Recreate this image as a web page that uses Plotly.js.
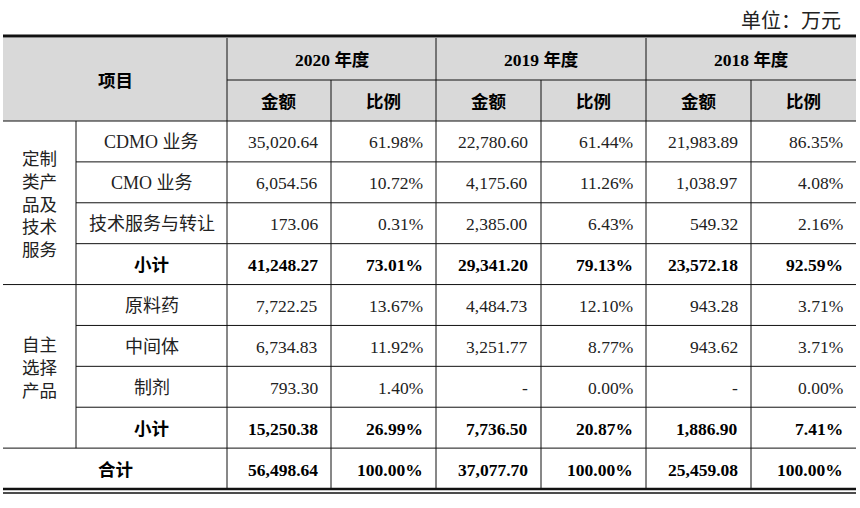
<!DOCTYPE html>
<html>
<head>
<meta charset="utf-8">
<script src="https://cdn.plot.ly/plotly-3.0.1.min.js"></script>
<style>body { margin: 0; background: #fff; }</style>
</head>
<body>
<div id="plot1" style="width:860px;height:508px"></div>
<script>
// header texts
let years = ["2020 年度", "2019 年度", "2018 年度"];
let subHeads = ["金额", "比例"];
let groups = ["定制类产品及技术服务", "自主选择产品"];

// row labels (last one is the grand total)
let items = ["CDMO 业务", "CMO 业务", "技术服务与转让", "小计",
             "原料药", "中间体", "制剂", "小计", "合计"];

// amounts (万元) and shares (%) per year, null means "-"
let amount2020 = [35020.64, 6054.56, 173.06, 41248.27, 7722.25, 6734.83, 793.30, 15250.38, 56498.64];
let share2020 = [61.98, 10.72, 0.31, 73.01, 13.67, 11.92, 1.40, 26.99, 100.00];
let amount2019 = [22780.60, 4175.60, 2385.00, 29341.20, 4484.73, 3251.77, null, 7736.50, 37077.70];
let share2019 = [61.44, 11.26, 6.43, 79.13, 12.10, 8.77, 0.00, 20.87, 100.00];
let amount2018 = [21983.89, 1038.97, 549.32, 23572.18, 943.28, 943.62, null, 1886.90, 25459.08];
let share2018 = [86.35, 4.08, 2.16, 92.59, 3.71, 3.71, 0.00, 7.41, 100.00];

let boldRows = [3, 7, 8];

// table geometry, in pixels (the axes are set 1 unit = 1 px)
let colX = [3, 76, 227, 331, 436, 541, 646, 751, 856];
let headTop = 38, headMid = 80, headBot = 121;
let rowH = (489 - headBot) / items.length;
let rowY = i => headBot + rowH * i;

let fontFam = "'Liberation Serif', 'Noto Sans CJK SC', serif";
let ink = "#222";

function fmtAmount(v) {
    if (v === null) return "-";
    return v.toLocaleString("en-US", {minimumFractionDigits: 2, maximumFractionDigits: 2});
}
function fmtShare(v) {
    return v.toFixed(2) + "%";
}

let shapes = [];
let annotations = [];

function hline(y, x0, x1, w) {
    shapes.push({type: "line", xref: "x", yref: "y", x0: x0, x1: x1, y0: y, y1: y,
                 line: {color: "#111", width: w || 1}});
}
function vline(x, y0, y1) {
    shapes.push({type: "line", xref: "x", yref: "y", x0: x, x1: x, y0: y0, y1: y1,
                 line: {color: "#111", width: 1}});
}
function label(text, x, y, anchor, size, bold) {
    annotations.push({
        xref: "x", yref: "y", x: x, y: y, text: bold ? "<b>" + text + "</b>" : text,
        showarrow: false, xanchor: anchor, yanchor: "middle",
        font: {family: fontFam, size: size || 17.5, color: bold ? "#000" : ink}
    });
}

// grey header background
shapes.push({type: "rect", xref: "x", yref: "y", x0: colX[0], x1: colX[8], y0: headTop, y1: headBot,
             fillcolor: "#d9d9d9", line: {width: 0}, layer: "below"});

// horizontal rules
hline(36, colX[0], colX[8], 3);
hline(headMid, colX[2], colX[8]);
hline(headBot, colX[0], colX[8]);
for (let i = 1; i < items.length; i++) {
    // full width after each subtotal, otherwise stop at the group column
    let x0 = (boldRows.includes(i - 1)) ? colX[0] : colX[1];
    hline(rowY(i), x0, colX[8]);
}
hline(489, colX[0], colX[8], 2.5);
hline(493, colX[0], colX[8], 1.5);

// vertical rules
vline(colX[1], headBot, rowY(8));
vline(colX[2], headTop, 489);
[3, 5, 7].forEach(c => vline(colX[c], headMid, 489));
[4, 6].forEach(c => vline(colX[c], headTop, 489));

// header text
label("项目", (colX[0] + colX[2]) / 2, headMid + 1, "center", 17.5, true);
years.forEach((yr, k) => {
    let c = 2 + k * 2;
    label(yr, (colX[c] + colX[c + 2]) / 2, (headTop + headMid) / 2 + 1, "center", 17.5, true);
    subHeads.forEach((s, j) => {
        label(s, (colX[c + j] + colX[c + j + 1]) / 2, (headMid + headBot) / 2 + 1, "center", 17.5, true);
    });
});

// group labels, two characters per line
groups.forEach((g, k) => {
    let lines = g.match(/.{1,2}/g).join("<br>");
    let y0 = k === 0 ? rowY(0) : rowY(4);
    label(lines, (colX[0] + colX[1]) / 2, y0 + rowH * 2 + 2, "center", 17.5, false);
});

// body
let cols = [amount2020, share2020, amount2019, share2019, amount2018, share2018];
items.forEach((name, i) => {
    let bold = boldRows.includes(i);
    let yc = rowY(i) + rowH / 2 + 1;
    if (i === items.length - 1) {
        label(name, (colX[0] + colX[2]) / 2, yc, "center", 17.5, true);
    } else {
        label(name, (colX[1] + colX[2]) / 2, yc, "center", bold ? 17.5 : 18, bold);
    }
    cols.forEach((arr, c) => {
        let txt = (c % 2 === 0) ? fmtAmount(arr[i]) : fmtShare(arr[i]);
        label(txt, colX[c + 3] - 11, yc, "right", 17.5, bold);
    });
});

// unit note
label("单位：万元", 843, 21, "right", 20, false);

let layout = {
    width: 860, height: 508,
    margin: {l: 0, r: 0, t: 0, b: 0},
    paper_bgcolor: "#fff", plot_bgcolor: "#fff",
    xaxis: {range: [0, 860], visible: false, fixedrange: true},
    yaxis: {range: [508, 0], visible: false, fixedrange: true},
    shapes: shapes,
    annotations: annotations,
    showlegend: false
};

// an empty trace keeps the axes alive
Plotly.newPlot("plot1", [{x: [], y: [], type: "scatter", mode: "markers"}], layout, {staticPlot: true});
</script>
</body>
</html>
